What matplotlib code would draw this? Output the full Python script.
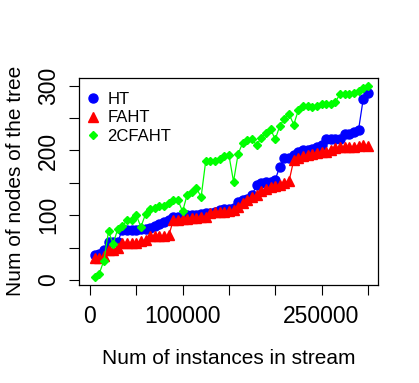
import matplotlib
matplotlib.use("Agg")
import matplotlib.pyplot as plt
import numpy as np

instances = list(range(5000, 300001, 5000))

ht = [38, 40, 47, 59, 59, 59, 78, 78, 78, 78, 79, 79, 81, 83, 86, 89, 92, 97, 98, 99,
      100, 100, 101, 102, 104, 104, 105, 108, 109, 110, 112, 120, 123, 125, 132, 146, 150, 151, 152, 155,
      175, 189, 189, 193, 197, 200, 201, 202, 206, 208, 217, 217, 217, 217, 226, 226, 228, 232, 279, 289]

faht = [34, 34, 37, 47, 47, 50, 58, 58, 58, 58, 60, 62, 68, 68, 68, 68, 69, 92, 93, 94,
        95, 96, 96, 97, 98, 104, 105, 105, 105, 106, 108, 113, 119, 124, 128, 132, 137, 141, 144, 145,
        147, 150, 153, 185, 188, 191, 193, 195, 196, 197, 198, 201, 204, 205, 205, 205, 206, 207, 209, 207]

c2faht = [5, 10, 30, 75, 56, 79, 84, 92, 92, 100, 82, 102, 110, 112, 114, 115, 119, 124, 123, 106,
          132, 136, 142, 128, 184, 184, 184, 187, 192, 193, 152, 195, 212, 216, 217, 208, 220, 227, 233, 217,
          238, 249, 256, 240, 262, 269, 268, 267, 269, 271, 271, 271, 275, 287, 287, 287, 289, 292, 296, 300]

series_names = ["HT", "FAHT", "2CFAHT"]
x_ticks = [0, 50000, 100000, 150000, 200000, 250000, 300000]
x_ticklabels = ["0", "", "100000", "", "", "250000", ""]
y_ticks = [0, 50, 100, 150, 200, 250, 300]
y_ticklabels = ["0", "", "100", "", "200", "", "300"]

plt.rcParams['font.family'] = ['Liberation Sans', 'DejaVu Sans']

fig = plt.figure(figsize=(4.19, 3.83), dpi=100)
ax = fig.add_axes([78.5 / 419, 1 - 284.5 / 383, (378 - 78.5) / 419, (284.5 - 78) / 383])

ax.plot(instances, ht, color="#0000FF", lw=0.9, marker="o", ms=6.5, mec="#0000FF", mfc="#0000FF", label=series_names[0])
ax.plot(instances, faht, color="#FF0000", lw=0.9, marker="^", ms=7, mec="#FF0000", mfc="#FF0000", label=series_names[1])
ax.plot(instances, c2faht, color="#00FF00", lw=0.9, marker="D", ms=4.2, mec="#00FF00", mfc="#00FF00", label=series_names[2])

ax.set_xlim(-12400, 311000)
ax.set_ylim(-6.8, 311.8)
ax.set_xticks(x_ticks)
ax.set_xticklabels(x_ticklabels)
ax.set_yticks(y_ticks)
ax.set_yticklabels(y_ticklabels, rotation=90, va="center")
ax.tick_params(axis="both", direction="out", length=7.2, width=0.8, labelsize=16.5)
ax.tick_params(axis="x", pad=7.5)
ax.tick_params(axis="y", pad=6)
for s in ax.spines.values():
    s.set_linewidth(0.9)

ax.set_xlabel("Num of instances in stream", fontsize=15, labelpad=15)
ax.set_ylabel("Num of nodes of the tree", fontsize=15, labelpad=9)

leg = ax.legend(loc="upper left", frameon=False, fontsize=12, handlelength=0, handletextpad=0.85,
                borderaxespad=0.3, labelspacing=0.22, bbox_to_anchor=(0.01, 0.99))
for h in leg.legend_handles:
    h.set_linestyle("None")

fig.savefig("out.png", dpi=100)
